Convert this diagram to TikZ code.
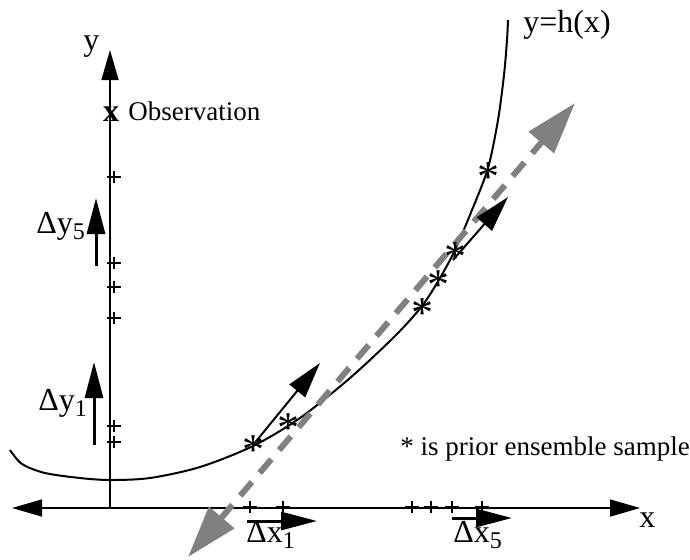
\documentclass[tikz,border=0pt]{standalone}
\usepackage{fontspec}
\setmainfont{Liberation Serif}
\usetikzlibrary{arrows.meta}
\definecolor{plotink}{HTML}{000000}
\definecolor{plotgray}{HTML}{808080}
\newcommand{\lowsub}[1]{\raisebox{-3pt}{\fontsize{12}{12}\selectfont #1}}
\tikzset{
  biglabel/.style={font=\fontsize{16}{16}\selectfont, text=plotink, inner sep=0pt},
  smalllabel/.style={font=\fontsize{13.5}{13.5}\selectfont, text=plotink, inner sep=0pt},
  obsmark/.style={font=\fontsize{16}{16}\selectfont\bfseries, text=plotink, inner sep=0pt},
  samplestar/.style={font=\fontsize{22}{22}\selectfont, text=plotink, inner sep=0pt, yshift=-2.6pt},
  axisline/.style={draw=plotink, line width=.75pt, >={Triangle[length=15pt,width=8.5pt]}},
  curveline/.style={draw=plotink, line width=1pt},
  ensmark/.style={draw=plotink, line width=.55pt},
  incarrow/.style={-{Triangle[length=18pt,width=9pt]}, draw=plotink, line width=1.5pt},
  tangentarrow/.style={-{Triangle[length=18pt,width=10pt]}, draw=plotink, line width=1pt},
  meanarrow/.style={{Triangle[length=26pt,width=16pt]}-{Triangle[length=26pt,width=16pt]},
    draw=plotgray, line width=3pt, dash pattern=on 9pt off 6pt}
}

\begin{document}
\begin{tikzpicture}[x=.5pt,y=-.5pt]
  % pixel units, y runs downward
  \useasboundingbox (0,0) rectangle (690,559);

  \coordinate (origin) at (110,508);
  \coordinate (ytip) at (110,50);
  \coordinate (xleft) at (12,508);
  \coordinate (xright) at (640,508);
  \draw[axisline,->] (origin) -- (ytip);
  \draw[axisline,<->] (xleft) -- (xright);
  \node[biglabel, anchor=base west] (ylab) at (83,50) {y};
  \node[biglabel, anchor=base west] (xlab) at (639,527) {x};

  \node[obsmark, anchor=base] (obs) at (111,121) {x};
  \node[smalllabel, anchor=base west] (obslab) at (128,120) {Observation};

  % ensemble marks on both axes
  \foreach \y in {177,263,287,318,426,442}
    \draw[ensmark] (114,\y) +(-7,0) -- +(7,0) +(0,-6) -- +(0,6);
  \foreach \x in {250,283,412,431,452,482}
    \draw[ensmark] (\x,507) +(-7,0) -- +(7,0) +(0,-6) -- +(0,6);

  \coordinate (dy5a) at (96,266);
  \coordinate (dy5b) at (96,198);
  \draw[incarrow] (dy5a) -- (dy5b);
  \node[biglabel, anchor=base west] (dy5lab) at (36,233) {Δy\lowsub{5}};
  \coordinate (dy1a) at (94,445);
  \coordinate (dy1b) at (94,362);
  \draw[incarrow] (dy1a) -- (dy1b);
  \node[biglabel, anchor=base west] (dy1lab) at (38,410) {Δy\lowsub{1}};
  \coordinate (dx1a) at (247,521);
  \coordinate (dx1b) at (317,521);
  \draw[incarrow] (dx1a) -- (dx1b);
  \node[biglabel, anchor=base west] (dx1lab) at (246,542) {Δx\lowsub{1}};
  \coordinate (dx5a) at (452,518);
  \coordinate (dx5b) at (512,518);
  \draw[incarrow] (dx5a) -- (dx5b);
  \node[biglabel, anchor=base west] (dx5lab) at (453,542) {Δx\lowsub{5}};

  \draw[curveline] plot[smooth] coordinates {(10,450) (22,464) (45,473) (80,478)
    (110,480) (150,478) (200,467) (253,446) (300,418) (350,378) (395,336)
    (422,306) (440,278) (455,250) (472,210) (488,168) (498,120) (504,75)
    (507,40) (508,20)};
  \node[biglabel, anchor=base west] (hlab) at (523,32) {y=h(x)};

  \coordinate (ga) at (188,557);
  \coordinate (gb) at (575,103);
  \draw[meanarrow] (ga) -- (gb);

  \foreach \x/\y [count=\i] in {253/445,288/423,422/308,438/280,455/252,488/172} {
    \coordinate (p\i) at (\x,\y);
    \node[samplestar] (s\i) at (p\i) {*};
  }
  \coordinate (t1) at (320,363);
  \coordinate (t2a) at (453,260);
  \coordinate (t2) at (508,197);
  \draw[tangentarrow] (p1) -- (t1);
  \draw[tangentarrow] (t2a) -- (t2);

  \node[smalllabel, anchor=base west] (legend) at (400,455) {* is prior ensemble sample};
\end{tikzpicture}
\end{document}
